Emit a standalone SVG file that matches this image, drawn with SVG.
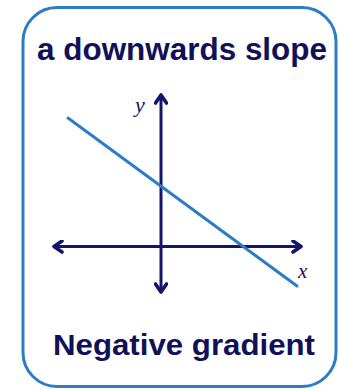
<svg xmlns="http://www.w3.org/2000/svg" width="339" height="390" viewBox="0 0 339 390">
  <style>
    .frame { fill: #ffffff; stroke: #2f7cc6; stroke-width: 3; }
    .axis { stroke: #14146b; stroke-width: 3; fill: none; }
    .graph { stroke: #2f7cc6; stroke-width: 3; fill: none; stroke-linecap: round; }
    .title { font-family: "Liberation Sans", Arial, sans-serif; font-weight: bold; fill: #111158; }
    .var { font-family: "Liberation Serif", "Times New Roman", serif; font-style: italic; fill: #14145e; }
  </style>
  <defs>
    <marker id="arrow" viewBox="0 0 14 14" refX="12" refY="7" markerWidth="14" markerHeight="14" markerUnits="userSpaceOnUse" orient="auto-start-reverse">
      <path d="M4,1.5 L12,7 L4,12.5" fill="none" stroke="#14146b" stroke-width="3.6" stroke-linecap="round" stroke-linejoin="round"/>
    </marker>
  </defs>
  <rect width="339" height="390" fill="#ffffff"/>
  <g id="frame">
    <rect class="frame" x="23" y="7.5" width="313" height="379" rx="34" ry="34"/>
  </g>
  <g id="title">
    <text class="title" x="37" y="60" font-size="31" textLength="290" lengthAdjust="spacingAndGlyphs">a downwards slope</text>
  </g>
  <g id="connectors">
    <line class="axis" x1="161" y1="292" x2="161" y2="95" marker-start="url(#arrow)" marker-end="url(#arrow)"/>
    <line class="axis" x1="54" y1="246.5" x2="301" y2="246.5" marker-start="url(#arrow)" marker-end="url(#arrow)"/>
    <line class="graph" x1="68" y1="118" x2="297" y2="286"/>
  </g>
  <g id="y-label">
    <text class="var" x="135" y="112" font-size="22">y</text>
  </g>
  <g id="x-label">
    <text class="var" x="298" y="278" font-size="21">x</text>
  </g>
  <g id="caption">
    <text class="title" x="53" y="354.5" font-size="29" textLength="262" lengthAdjust="spacingAndGlyphs">Negative gradient</text>
  </g>
</svg>
